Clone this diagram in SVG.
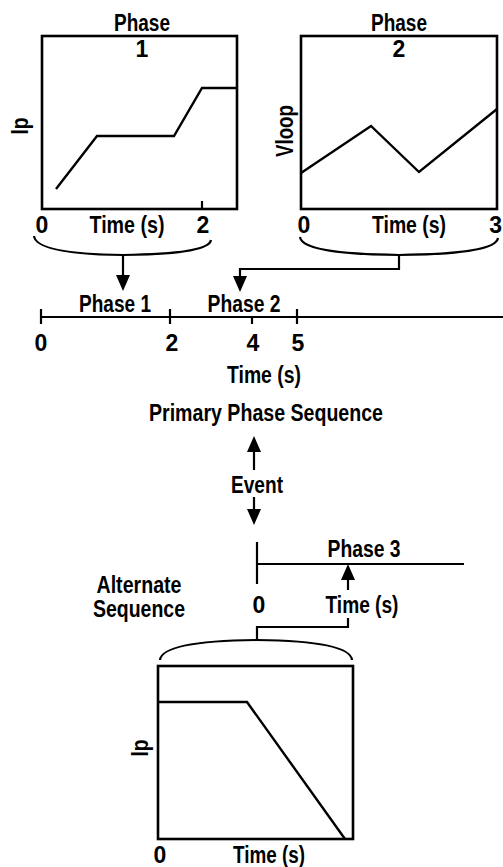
<svg xmlns="http://www.w3.org/2000/svg" width="503" height="867" viewBox="0 0 503 867">
<style>
text{font-family:"Liberation Sans",Arial,sans-serif;font-weight:bold;font-size:23px;fill:#000}
.m{text-anchor:middle}
.box{fill:none;stroke:#000;stroke-width:2.6}
.ln{fill:none;stroke:#000;stroke-width:2.2}
.crv{fill:none;stroke:#000;stroke-width:2.4;stroke-linejoin:miter}
</style>
<defs>
<marker id="ah" markerUnits="userSpaceOnUse" markerWidth="16" markerHeight="14" refX="0" refY="7" orient="auto">
<path d="M0,0 L16,7 L0,14 z" fill="#000"/>
</marker>
</defs>
<rect width="503" height="867" fill="#fff"/>

<g id="plot1">
<text class="m" x="142" y="31" textLength="56" lengthAdjust="spacingAndGlyphs">Phase</text>
<rect class="box" x="42" y="36" width="195" height="173"/>
<text class="m" x="142" y="57">1</text>
<text class="m" transform="translate(28,126) rotate(-90)" textLength="17" lengthAdjust="spacingAndGlyphs">Ip</text>
<polyline class="crv" points="56,189 97,136 174,136 202,88 237,88"/>
<line class="ln" x1="202" y1="201" x2="202" y2="209"/>
<text class="m" x="42" y="233">0</text>
<text class="m" x="127" y="233" textLength="75" lengthAdjust="spacingAndGlyphs">Time (s)</text>
<text class="m" x="203" y="233">2</text>
<path class="ln" d="M34,236 Q36,254 123,255 Q209,254 211,240"/>
</g>

<g id="plot2">
<text class="m" x="399" y="31" textLength="56" lengthAdjust="spacingAndGlyphs">Phase</text>
<rect class="box" x="301" y="36" width="196" height="173"/>
<text class="m" x="399" y="57">2</text>
<text class="m" transform="translate(293,131) rotate(-90)" textLength="52" lengthAdjust="spacingAndGlyphs">Vloop</text>
<polyline class="crv" points="301,173 371,126 419,172 497,109"/>
<text class="m" x="304" y="233">0</text>
<text class="m" x="409" y="233" textLength="74" lengthAdjust="spacingAndGlyphs">Time (s)</text>
<text x="502" y="233" text-anchor="end">3</text>
<path class="ln" d="M300,237 Q302,254 399,255 Q496,254 498,238"/>
</g>

<g id="primary-timeline">
<line class="ln" x1="41" y1="317" x2="503" y2="317"/>
<line class="ln" x1="41" y1="309" x2="41" y2="324"/>
<line class="ln" x1="170" y1="309" x2="170" y2="324"/>
<line class="ln" x1="252" y1="317" x2="252" y2="324"/>
<line class="ln" x1="297" y1="309" x2="297" y2="324"/>
<text class="m" x="115" y="312" textLength="72" lengthAdjust="spacingAndGlyphs">Phase 1</text>
<text class="m" x="244" y="312" textLength="73" lengthAdjust="spacingAndGlyphs">Phase 2</text>
<text class="m" x="41" y="351">0</text>
<text class="m" x="172" y="351">2</text>
<text class="m" x="253" y="351">4</text>
<text class="m" x="298" y="351">5</text>
<text class="m" x="264" y="383" textLength="74" lengthAdjust="spacingAndGlyphs">Time (s)</text>
<text class="m" x="266" y="421" textLength="234" lengthAdjust="spacingAndGlyphs">Primary Phase Sequence</text>
</g>

<g id="event">
<text class="m" x="257" y="493" textLength="52" lengthAdjust="spacingAndGlyphs">Event</text>
</g>

<g id="alternate-timeline">
<line class="ln" x1="257" y1="542" x2="257" y2="584"/>
<line class="ln" x1="257" y1="564" x2="464" y2="564"/>
<text class="m" x="364" y="557" textLength="73" lengthAdjust="spacingAndGlyphs">Phase 3</text>
<text class="m" x="139" y="593" textLength="85" lengthAdjust="spacingAndGlyphs">Alternate</text>
<text class="m" x="139" y="617" textLength="92" lengthAdjust="spacingAndGlyphs">Sequence</text>
<text class="m" x="259" y="613">0</text>
<text class="m" x="362" y="613" textLength="73" lengthAdjust="spacingAndGlyphs">Time (s)</text>
</g>

<g id="plot3">
<path class="ln" d="M160,660 Q162,641 257,640 Q350,641 352,660"/>
<rect class="box" x="158" y="666" width="195" height="173"/>
<text class="m" transform="translate(148,748) rotate(-90)" textLength="17" lengthAdjust="spacingAndGlyphs">Ip</text>
<polyline class="crv" points="158,702 247,702 345,839"/>
<text class="m" x="160" y="863">0</text>
<text class="m" x="269" y="863" textLength="72" lengthAdjust="spacingAndGlyphs">Time (s)</text>
</g>

<g id="connectors">
<path class="ln" d="M123,255 V275" marker-end="url(#ah)"/>
<path class="ln" d="M399,255 V269 H240 V276" marker-end="url(#ah)"/>
<path class="ln" d="M254,470 V452" marker-end="url(#ah)"/>
<path class="ln" d="M254,497 V509" marker-end="url(#ah)"/>
<path class="ln" d="M348,590 V580" marker-end="url(#ah)"/>
<path class="ln" d="M348,618 V627 H257 V640"/>
</g>
</svg>
